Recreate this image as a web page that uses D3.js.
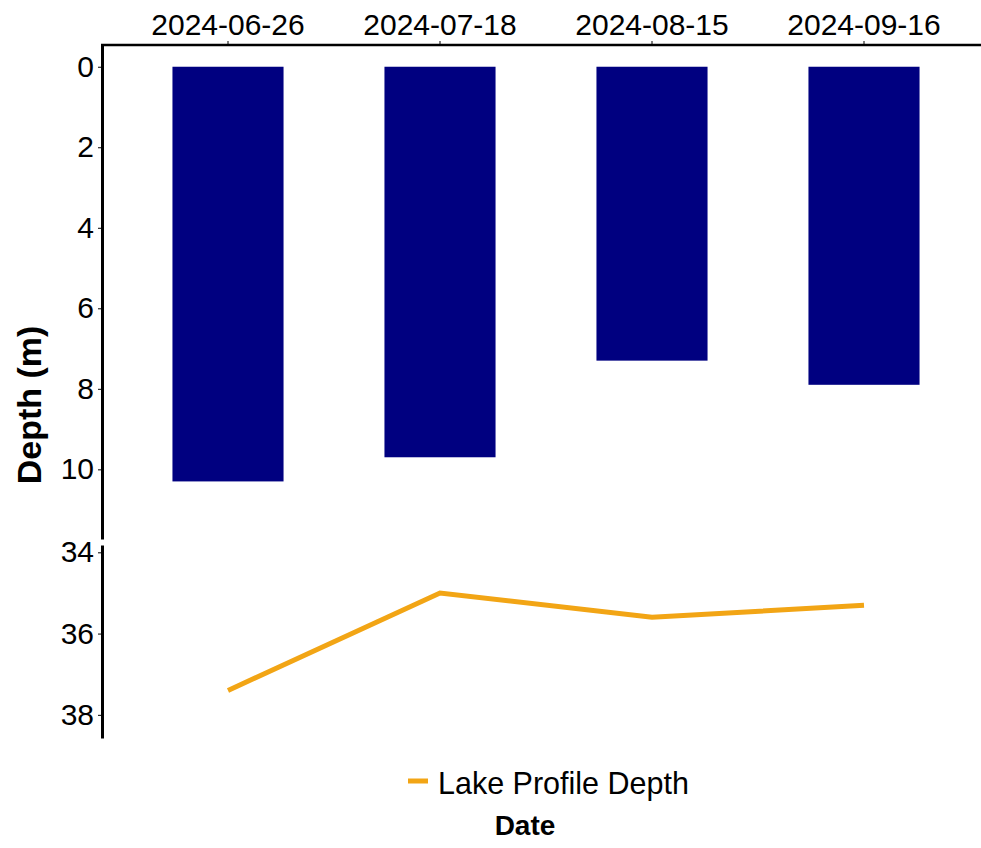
<html lang="en">
<head>
<title>Depth chart</title>
<script src="https://d3js.org/d3.v7.min.js" charset="utf-8"></script>
<style>
  body { margin: 0; background: #fff; font-family: Arial, "Liberation Sans", sans-serif; }
  svg text { fill: #000; }
</style>
</head>
<body>
<script>
// data
var dates = ["2024-06-26", "2024-07-18", "2024-08-15", "2024-09-16"]
var barDepths = [10.3, 9.7, 7.3, 7.9]
var lakeDepths = [37.4, 35.0, 35.6, 35.3]
var topTicks = [0, 2, 4, 6, 8, 10]
var bottomTicks = [34, 36, 38]

var width = 981
var height = 848
var font = "Arial, 'Liberation Sans', sans-serif"

var svg = d3.select("body").append("svg")
  .attr("width", width)
  .attr("height", height)

var x = d3.scaleBand()
  .domain(dates)
  .range([122, 970])
  .paddingInner(0.476)
  .paddingOuter(0.238)

// upper panel (bars) and lower panel (line) of the broken axis
var yTop = d3.scaleLinear().domain([-0.54, 11.73]).range([45, 539])
var yBot = d3.scaleLinear().domain([33.82, 38.57]).range([545, 738])

// bars
svg.append("g").selectAll("rect")
  .data(dates)
  .enter()
  .append("rect")
  .attr("x", function(d) { return x(d) })
  .attr("width", x.bandwidth())
  .attr("y", yTop(0))
  .attr("height", function(d, i) { return yTop(barDepths[i]) - yTop(0) })
  .attr("fill", "#000080")

// lake profile line
var line = d3.line()
  .x(function(d, i) { return x(dates[i]) + x.bandwidth() / 2 })
  .y(function(d) { return yBot(d) })

svg.append("path")
  .datum(lakeDepths)
  .attr("d", line)
  .attr("fill", "none")
  .attr("stroke", "#f2a515")
  .attr("stroke-width", 5)

// axes
var xAxis = svg.append("g")
  .attr("transform", "translate(0,45)")
  .call(d3.axisTop(x).tickSize(4).tickPadding(6).tickSizeOuter(0))
xAxis.select(".domain").attr("stroke-width", 2.5).attr("d", "M101,0H981")
xAxis.selectAll("text").attr("font-size", "30px").attr("font-family", font)

var yAxisTop = svg.append("g")
  .attr("transform", "translate(102,0)")
  .call(d3.axisLeft(yTop).tickValues(topTicks).tickFormat(d3.format("d")).tickSize(4).tickPadding(4).tickSizeOuter(0))
yAxisTop.select(".domain").attr("stroke-width", 3)
yAxisTop.selectAll("text").attr("font-size", "30px").attr("font-family", font)

var yAxisBot = svg.append("g")
  .attr("transform", "translate(102,0)")
  .call(d3.axisLeft(yBot).tickValues(bottomTicks).tickFormat(d3.format("d")).tickSize(4).tickPadding(4).tickSizeOuter(0))
yAxisBot.select(".domain").attr("stroke-width", 3)
yAxisBot.selectAll("text").attr("font-size", "30px").attr("font-family", font)

// axis title
svg.append("text")
  .attr("transform", "translate(41,405) rotate(-90)")
  .attr("text-anchor", "middle")
  .attr("font-size", "34px")
  .attr("font-weight", "bold")
  .attr("font-family", font)
  .text("Depth (m)")

// legend
svg.append("line")
  .attr("x1", 408).attr("x2", 428)
  .attr("y1", 781).attr("y2", 781)
  .attr("stroke", "#f2a515")
  .attr("stroke-width", 5)

svg.append("text")
  .attr("x", 438)
  .attr("y", 794)
  .attr("font-size", "30.5px")
  .attr("font-family", font)
  .text("Lake Profile Depth")

svg.append("text")
  .attr("x", 525)
  .attr("y", 835)
  .attr("text-anchor", "middle")
  .attr("font-size", "28px")
  .attr("font-weight", "bold")
  .attr("font-family", font)
  .text("Date")
</script>
</body>
</html>
